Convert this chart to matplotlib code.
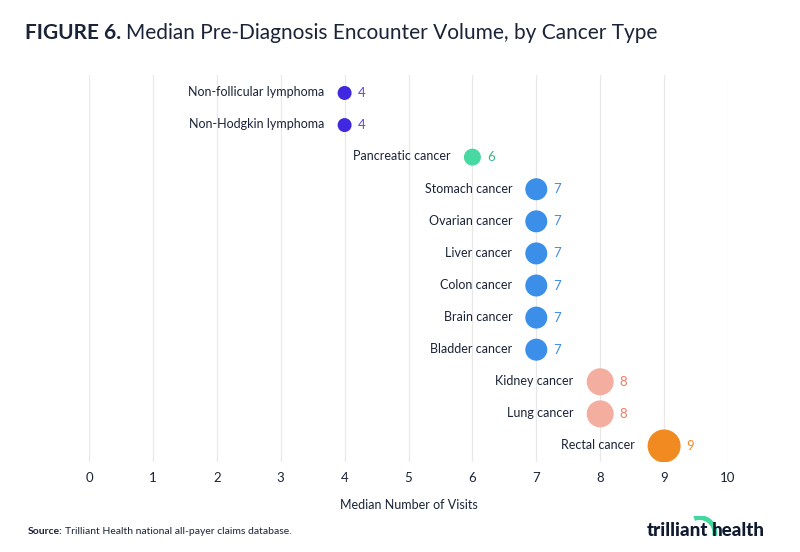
import matplotlib.pyplot as plt
from matplotlib.patches import Arc

# Données
cancers = ["Non-follicular lymphoma", "Non-Hodgkin lymphoma", "Pancreatic cancer",
           "Stomach cancer", "Ovarian cancer", "Liver cancer", "Colon cancer",
           "Brain cancer", "Bladder cancer", "Kidney cancer", "Lung cancer",
           "Rectal cancer"]
visites = [4, 4, 6, 7, 7, 7, 7, 7, 7, 8, 8, 9]
ticks_x = list(range(0, 11))

# Style par valeur : (diamètre en px, couleur bulle, couleur texte)
style = {
    4: (14, "#4027e0", "#5b47e8"),
    6: (17, "#48d9a2", "#37b985"),
    7: (22, "#3c8fe8", "#3c8fe8"),
    8: (27, "#f4ae9f", "#f07b62"),
    9: (33, "#f28a22", "#f28a22"),
}

texte = "#1b2338"
plt.rcParams['font.family'] = ['Lato', 'DejaVu Sans']

fig = plt.figure(figsize=(8, 5.52), dpi=100)
ax = fig.add_axes([89 / 800, 1 - 462 / 552, (728 - 89) / 800, (462 - 75) / 552])

for x in ticks_x:
    ax.axvline(x, color="#e8e8e8", lw=0.9, zorder=0)

for i, (nom, v) in enumerate(zip(cancers, visites)):
    d, c_bulle, c_txt = style[v]
    d_pt = d * 0.72
    ax.scatter(v, i, s=d_pt ** 2, color=c_bulle, edgecolors="none", zorder=3)
    ax.annotate(nom, (v, i), xytext=(-(d / 2 + 13) * 0.72, 0.5), textcoords="offset points",
                ha="right", va="center", fontsize=9, color=texte)
    ax.annotate(str(v), (v, i), xytext=((d / 2 + 6) * 0.72, 0), textcoords="offset points",
                ha="left", va="center", fontsize=9.5, color=c_txt)

ax.set_ylim(11.5, -0.56)
ax.set_xticks(ticks_x)
ax.set_xticklabels([str(t) for t in ticks_x], fontsize=9.5, color=texte)
ax.tick_params(axis="x", length=0, pad=7)
ax.set_yticks([])
for s in ax.spines.values():
    s.set_visible(False)
ax.patch.set_alpha(0)
ax.set_xlim(-0.0001, 10.0001)
ax.set_xlabel("Median Number of Visits", fontsize=9, color=texte, labelpad=11)

# Titre
r = fig.canvas.get_renderer()
t1 = fig.text(25 / 800, 1 - 33 / 552, "FIGURE 6.", fontsize=15, fontweight="bold",
              color=texte, va="center", ha="left")
x1 = t1.get_window_extent(r).x1 + 5
fig.text(x1 / 800, 1 - 33 / 552, "Median Pre-Diagnosis Encounter Volume, by Cancer Type",
         fontsize=15, color=texte, va="center", ha="left")

# Source
s1 = fig.text(28 / 800, 1 - 531 / 552, "Source:", fontsize=7.5, fontweight="bold",
              color=texte, va="center", ha="left")
x2 = s1.get_window_extent(r).x1 + 2
fig.text(x2 / 800, 1 - 531 / 552, "Trilliant Health national all-payer claims database.",
         fontsize=7.5, color=texte, va="center", ha="left")

# Logo
fig.text(708 / 800, 1 - 530 / 552, "trilliant", fontsize=13.5, fontweight="black",
         color="#0f1a2e", va="center", ha="right")
fig.text(712 / 800, 1 - 530 / 552, "health", fontsize=13.5, fontweight="black",
         color="#0f1a2e", va="center", ha="left")
logo = fig.add_axes([684 / 800, 1 - 536 / 552, 34 / 800, 20 / 552])
logo.add_patch(Arc((0.0, 0.0), 2.0, 2.0, theta1=-10, theta2=110, color="#3fd9a0", lw=3.5))
logo.set_xlim(-1, 1.2)
logo.set_ylim(-0.2, 1.1)
logo.axis("off")

fig.savefig("out.png", dpi=100)
